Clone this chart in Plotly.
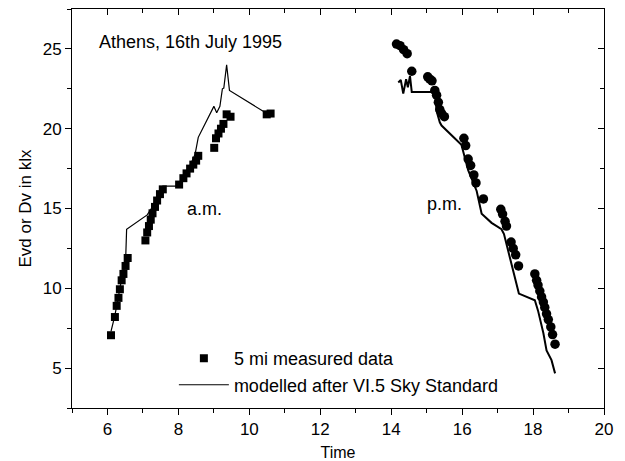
import plotly.graph_objects as go

# a.m. measured data (squares)
am_time = [6.10, 6.21, 6.26, 6.31, 6.35, 6.40, 6.45, 6.51, 6.57,
           7.07, 7.12, 7.17, 7.22, 7.27, 7.34, 7.40, 7.48, 7.56,
           8.02, 8.14, 8.23, 8.33, 8.42, 8.50, 8.56,
           9.01, 9.06, 9.13, 9.20, 9.27, 9.36, 9.47, 10.49, 10.60]
am_meas = [7.06, 8.2, 8.9, 9.4, 9.94, 10.5, 10.9, 11.4, 11.9,
           13.0, 13.5, 13.9, 14.3, 14.7, 15.1, 15.5, 15.9, 16.2,
           16.5, 16.9, 17.2, 17.5, 17.75, 18.0, 18.3,
           18.8, 19.4, 19.7, 20.0, 20.3, 20.9, 20.75, 20.9, 20.95]

# a.m. modelled (line)
am_model_time = [6.10, 6.21, 6.31, 6.40, 6.51, 6.54, 7.12, 7.27, 7.40, 7.56,
                 8.0, 8.14, 8.33, 8.47, 8.56, 9.0, 9.08, 9.17, 9.24, 9.28,
                 9.36, 9.44, 10.53]
am_model = [7.3, 8.3, 9.5, 10.6, 11.6, 13.7, 14.6, 15.1, 15.8, 16.4,
            16.4, 17.0, 17.7, 18.4, 19.46, 21.4, 21.0, 21.4, 22.5, 22.54,
            24.0, 22.4, 20.9]

# p.m. measured data (circles)
pm_time = [14.15, 14.25, 14.35, 14.45, 14.58, 15.03, 15.09, 15.15, 15.23, 15.28,
           15.33, 15.37, 15.42, 15.50, 16.05, 16.10, 16.17, 16.24, 16.33, 16.39,
           16.60, 17.09, 17.14, 17.21, 17.25, 17.38, 17.44, 17.51, 17.59,
           18.05, 18.10, 18.14, 18.19, 18.24, 18.29, 18.33, 18.38, 18.43,
           18.50, 18.55, 18.62]
pm_meas = [25.3, 25.2, 24.95, 24.7, 23.6, 23.25, 23.1, 23.0, 22.4, 22.1,
           21.65, 21.2, 20.96, 20.75, 19.4, 18.94, 18.1, 17.7, 17.1, 16.6,
           15.6, 14.95, 14.65, 14.2, 13.9, 12.9, 12.5, 12.1, 11.4,
           10.9, 10.5, 10.2, 9.83, 9.46, 9.14, 8.8, 8.4, 8.04,
           7.58, 7.1, 6.5]

# p.m. modelled (line)
pm_model_time = [14.20, 14.27, 14.34, 14.42, 14.47, 14.53, 14.58, 15.14, 15.23,
                 15.28, 15.37, 15.42, 15.98, 16.17, 16.41, 16.55, 16.83, 17.11,
                 17.18, 17.60, 18.05, 18.14, 18.29, 18.38, 18.52, 18.62]
pm_model = [22.9, 23.05, 22.2, 23.1, 22.6, 23.3, 22.3, 22.3, 22.4,
            21.1, 20.4, 20.2, 19.0, 17.4, 16.1, 14.67, 14.1, 13.7,
            13.4, 9.67, 9.25, 8.6, 7.2, 6.1, 5.5, 4.67]

x_ticks = [6, 8, 10, 12, 14, 16, 18, 20]
y_ticks = [5, 10, 15, 20, 25]

FONT = "Liberation Sans, Arial, sans-serif"

fig = go.Figure()
fig.add_trace(go.Scatter(x=am_model_time, y=am_model, mode="lines",
                         line=dict(color="black", width=1.2),
                         name="modelled after VI.5 Sky Standard", showlegend=False))
fig.add_trace(go.Scatter(x=pm_model_time, y=pm_model, mode="lines",
                         line=dict(color="black", width=2),
                         name="modelled after VI.5 Sky Standard", showlegend=False))
fig.add_trace(go.Scatter(x=am_time, y=am_meas, mode="markers",
                         marker=dict(symbol="square", size=8, color="black"),
                         name="5 mi measured data", showlegend=True, legendrank=1))
fig.add_trace(go.Scatter(x=pm_time, y=pm_meas, mode="markers",
                         marker=dict(symbol="circle", size=9.5, color="black"),
                         name="5 mi measured data p.m.", showlegend=False))
# legend entry for the model line
fig.add_trace(go.Scatter(x=[None], y=[None], mode="lines",
                         line=dict(color="black", width=1.2),
                         name="modelled after VI.5 Sky Standard", showlegend=True,
                         legendrank=2))
# invisible trace for the mirrored top/right axes
fig.add_trace(go.Scatter(x=[None], y=[None], xaxis="x2", yaxis="y2",
                         showlegend=False, hoverinfo="skip"))

axis_common = dict(showgrid=False, zeroline=False, showline=True, linecolor="black",
                   linewidth=1, tickcolor="black", color="black", tickwidth=1)

fig.update_layout(
    width=617, height=453,
    margin=dict(l=64, r=21, t=1, b=53, autoexpand=False),
    paper_bgcolor="white", plot_bgcolor="white",
    font=dict(family=FONT, size=17, color="black"),
    xaxis=dict(range=[5, 20], tickvals=x_ticks, ticks="outside", ticklen=6,
               tickfont=dict(size=17),
               minor=dict(ticks="outside", dtick=1, tick0=5, ticklen=4, tickcolor="black"),
               title=dict(text="Time", font=dict(size=16), standoff=8), **axis_common),
    yaxis=dict(range=[2.5, 27.5], tickvals=y_ticks, ticks="outside", ticklen=6,
               tickfont=dict(size=17),
               minor=dict(ticks="outside", dtick=2.5, tick0=2.5, ticklen=4, tickcolor="black"),
               title=dict(text="Evd or Dv in klx", font=dict(size=17), standoff=6), **axis_common),
    xaxis2=dict(overlaying="x", side="top", range=[5, 20], tickvals=x_ticks,
                ticks="inside", ticklen=6, showticklabels=False,
                minor=dict(ticks="inside", dtick=1, tick0=5, ticklen=4, tickcolor="black"),
                **axis_common),
    yaxis2=dict(overlaying="y", side="right", range=[2.5, 27.5], tickvals=y_ticks,
                ticks="inside", ticklen=6, showticklabels=False,
                minor=dict(ticks="inside", dtick=2.5, tick0=2.5, ticklen=4, tickcolor="black"),
                **axis_common),
    legend=dict(x=0.1915, y=0.17, xanchor="left", yanchor="top", itemwidth=50,
                bgcolor="rgba(0,0,0,0)", font=dict(size=18), tracegroupgap=0),
    annotations=[
        dict(text="Athens, 16th July 1995", x=0.047, y=0.918, xref="paper", yref="paper",
             xanchor="left", yanchor="middle", showarrow=False, font=dict(size=18)),
        dict(text="a.m.", x=8.19, y=15.0, xref="x", yref="y", xanchor="left",
             yanchor="middle", showarrow=False, font=dict(size=18)),
        dict(text="p.m.", x=14.95, y=15.3, xref="x", yref="y", xanchor="left",
             yanchor="middle", showarrow=False, font=dict(size=18)),
    ],
)

fig.write_html("out.html")
